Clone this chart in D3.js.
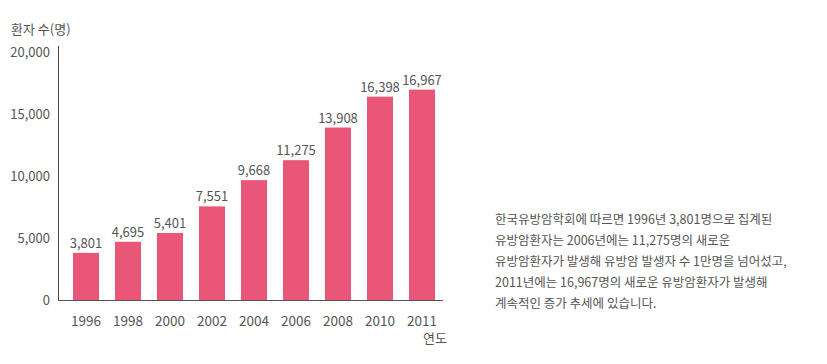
<!DOCTYPE html>
<html>
<head>
<meta charset="utf-8">
<script src="https://cdn.jsdelivr.net/npm/d3@7"></script>
<style>
  html, body { margin: 0; padding: 0; background: #fff; }
  svg text { font-family: "Noto Sans CJK KR", "Noto Sans", sans-serif; fill: #555; }
</style>
</head>
<body>
<svg id="chart" width="827" height="364"></svg>
<script>
// 연도별 유방암 환자 수
var years = ['1996', '1998', '2000', '2002', '2004', '2006', '2008', '2010', '2011'];
var patients = [3801, 4695, 5401, 7551, 9668, 11275, 13908, 16398, 16967];
var yTicks = [0, 5000, 10000, 15000, 20000];
var noteLines = [
  '한국유방암학회에 따르면 1996년 3,801명으로 집계된',
  '유방암환자는 2006년에는 11,275명의 새로운',
  '유방암환자가 발생해 유방암 발생자 수 1만명을 넘어섰고,',
  '2011년에는 16,967명의 새로운 유방암환자가 발생해',
  '계속적인 증가 추세에 있습니다.'
];

var svg = d3.select('#chart');
var BAR = '#ea5678';

var x = d3.scaleBand().domain(years).range([65, 443]).paddingInner(0.38).paddingOuter(0.19);
var y = d3.scaleLinear().domain([0, 20000]).range([300, 52]);
var fmt = d3.format(',');

// y축 눈금 라벨
svg.append('g').selectAll('text').data(yTicks).join('text')
  .attr('x', 50).attr('y', function (d) { return y(d); })
  .attr('dy', '0.35em').attr('text-anchor', 'end')
  .style('font-size', '13px')
  .text(function (d) { return fmt(d); });

// 막대
svg.append('g').selectAll('rect').data(patients).join('rect')
  .attr('x', function (d, i) { return x(years[i]); })
  .attr('width', x.bandwidth())
  .attr('y', function (d) { return y(d); })
  .attr('height', function (d) { return y(0) - y(d); })
  .attr('fill', BAR);

// 값 라벨
svg.append('g').selectAll('text').data(patients).join('text')
  .attr('x', function (d, i) { return x(years[i]) + x.bandwidth() / 2; })
  .attr('y', function (d) { return y(d) - 5; })
  .attr('text-anchor', 'middle')
  .style('font-size', '13px')
  .text(function (d) { return fmt(d); });

// 축선
svg.append('line').attr('x1', 58.5).attr('x2', 58.5).attr('y1', 46).attr('y2', y(0))
  .attr('stroke', '#444').attr('stroke-width', 1);
svg.append('line').attr('x1', 58).attr('x2', 443).attr('y1', y(0) + 0.5).attr('y2', y(0) + 0.5)
  .attr('stroke', '#555').attr('stroke-width', 1.2);

// x축 라벨
svg.append('g').selectAll('text').data(years).join('text')
  .attr('x', function (d) { return x(d) + x.bandwidth() / 2; })
  .attr('y', 321).attr('dy', '0.35em').attr('text-anchor', 'middle')
  .style('font-size', '13.5px')
  .text(function (d) { return d; });

svg.append('text').attr('x', 11).attr('y', 29).attr('dy', '0.35em')
  .style('font-size', '13px').text('환자 수(명)');
svg.append('text').attr('x', 423).attr('y', 338).attr('dy', '0.35em')
  .style('font-size', '13px').text('연도');

// 설명 문단
svg.append('g').selectAll('text').data(noteLines).join('text')
  .attr('x', 495).attr('y', function (d, i) { return 220 + i * 21; })
  .attr('dy', '0.35em')
  .style('font-size', '12.5px')
  .text(function (d) { return d; });
</script>
</body>
</html>
